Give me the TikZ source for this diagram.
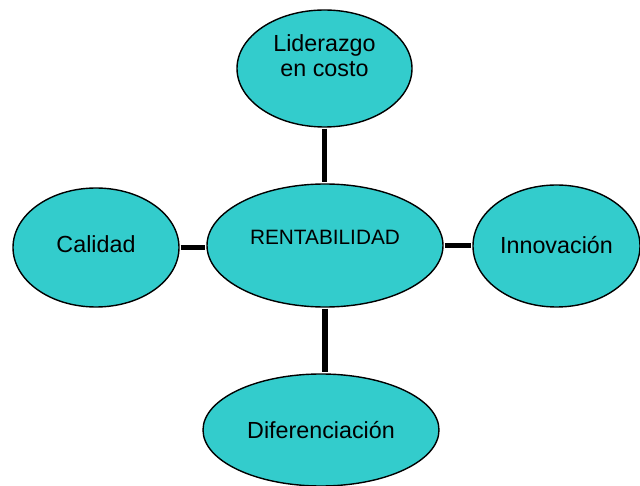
\documentclass[tikz,border=0pt]{standalone}
\usepackage{fontspec}
\setmainfont{Liberation Sans}
\usepackage{tikz}
\usetikzlibrary{shapes.geometric}

\definecolor{turq}{RGB}{51,204,204}

\tikzset{
  blob/.style={ellipse, draw=black, line width=1.4pt, fill=turq, inner sep=0pt},
  lbl/.style={font=\fontsize{23.3}{25}\selectfont, align=center, inner sep=0pt},
  link/.style={line width=5.5pt, shorten <=1pt, shorten >=1pt}
}

\begin{document}
\begin{tikzpicture}[x=1pt, y=-1pt]

\useasboundingbox (0,0) rectangle (640,486);

\node[blob, minimum width=175, minimum height=117,
      label={[lbl, yshift=13pt]center:Liderazgo\\en costo}] (lider) at (324.5,68.5) {};
\node[blob, minimum width=236, minimum height=123,
      label={[lbl, font=\fontsize{20.8}{24}\selectfont, yshift=7.7pt]center:RENTABILIDAD}] (rent) at (325,245.5) {};
\node[blob, minimum width=166, minimum height=119,
      label={[lbl, yshift=3.5pt]center:Calidad}] (calidad) at (96,247.5) {};
\node[blob, minimum width=167, minimum height=122,
      label={[lbl, yshift=1pt]center:Innovación}] (innov) at (556.5,246) {};
\node[blob, minimum width=236, minimum height=112,
      label={[lbl]center:Diferenciación}] (difer) at (321,430) {};

\draw[link] (lider.south) -- (lider.south |- rent.north);
\draw[link] (rent.south) -- (rent.south |- difer.north);
\draw[link] (calidad.east) -- (calidad.east -| rent.west);
\draw[link] (rent.east) -- (rent.east -| innov.west);

\end{tikzpicture}
\end{document}
